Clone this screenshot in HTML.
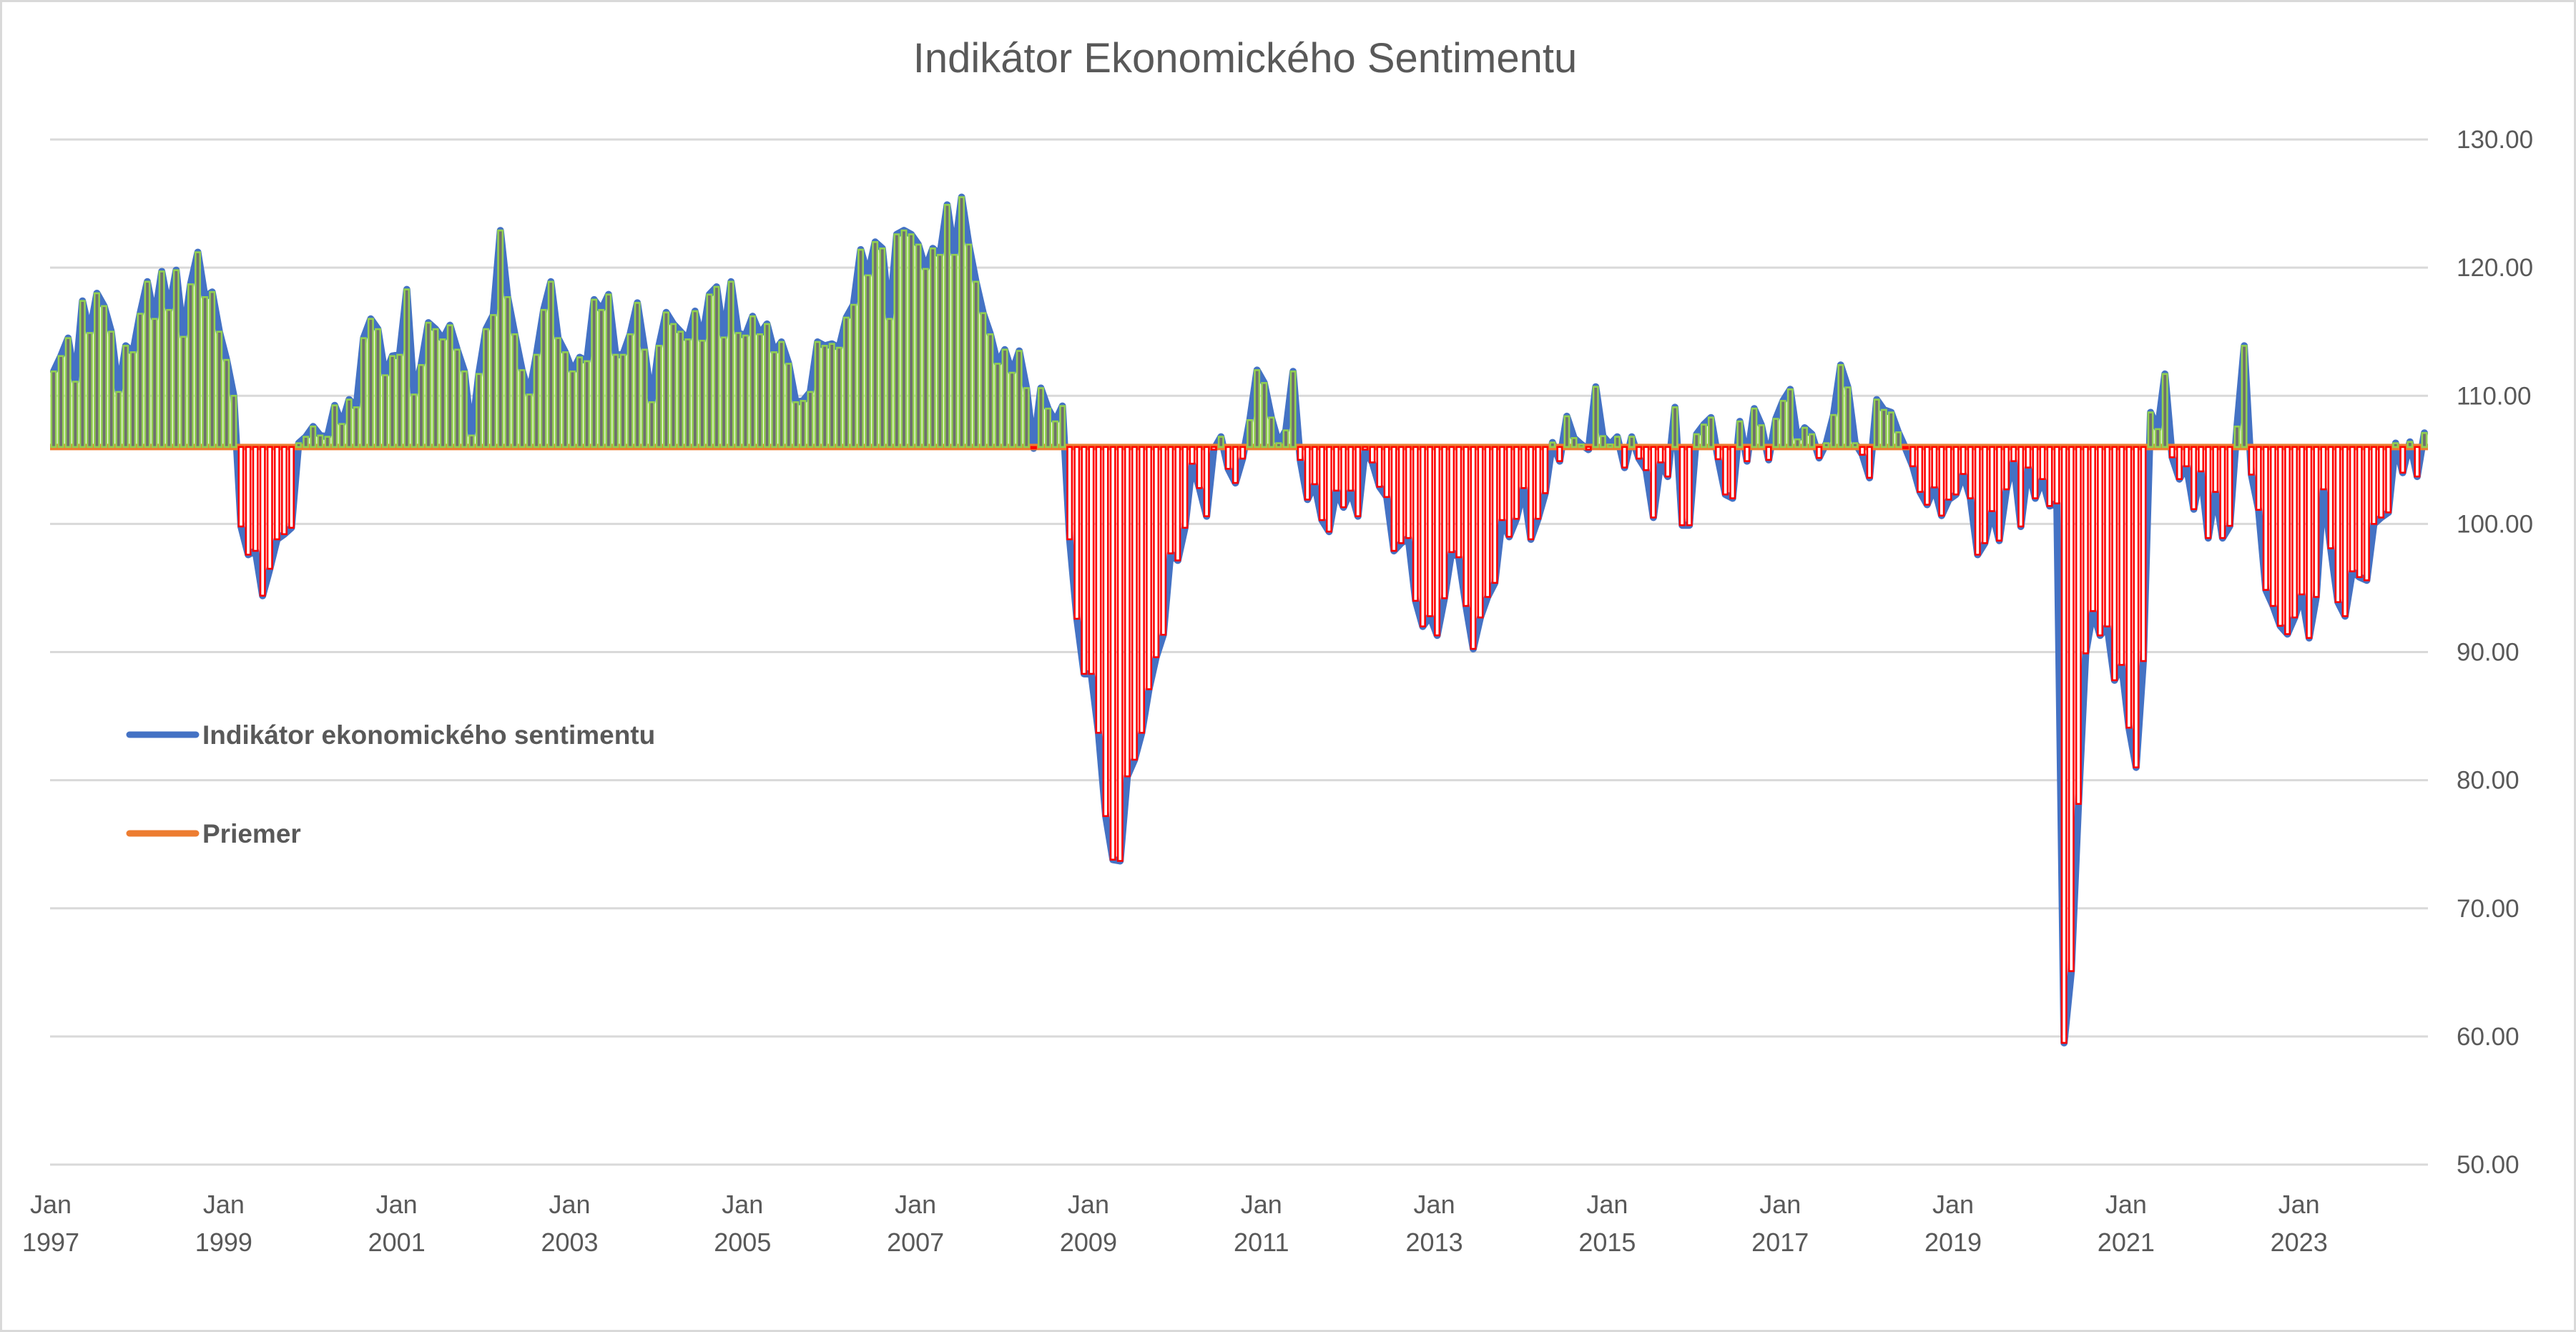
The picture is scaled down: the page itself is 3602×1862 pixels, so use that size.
<!DOCTYPE html>
<html><head><meta charset="utf-8">
<style>
html,body{margin:0;padding:0;background:#fff;}
svg{display:block;font-family:"Liberation Sans",Arial,sans-serif;}
</style></head>
<body>
<svg id="chart" width="3602" height="1862" viewBox="0 0 3602 1862" xmlns="http://www.w3.org/2000/svg">
<rect x="1.5" y="1.5" width="3599" height="1859" fill="#fff" stroke="#d9d9d9" stroke-width="3"/>
<text x="1741" y="101" text-anchor="middle" font-size="58" fill="#595959">Indikátor Ekonomického Sentimentu</text>
<g id="grid"></g>
<g id="yaxis"></g>
<g id="xaxis"></g>
<g id="series"></g>
<g>
<g>
<line x1="181" y1="1027" x2="274" y2="1027" stroke="#4472C4" stroke-width="9" stroke-linecap="round"/>
<text x="283" y="1040" font-size="37" font-weight="bold" fill="#595959">Indikátor ekonomického sentimentu</text>
</g>
<g>
<line x1="181" y1="1165" x2="274" y2="1165" stroke="#ED7D31" stroke-width="9" stroke-linecap="round"/>
<text x="283" y="1178" font-size="37" font-weight="bold" fill="#595959">Priemer</text>
</g>
</g>
</svg>
<script>
const startYear = 1997;
const yTicks = [50, 60, 70, 80, 90, 100, 110, 120, 130];
const yTickLabels = ["50.00","60.00","70.00","80.00","90.00","100.00","110.00","120.00","130.00"];
const xTickYears = ["1997","1999","2001","2003","2005","2007","2009","2011","2013","2015","2017","2019","2021","2023"];
const sentimentValues = [
111.9,113.1,114.5,111.1,117.4,114.9,118.0,117.0,115.0,110.3,113.9,113.4,
116.4,118.9,116.0,119.7,116.7,119.8,114.6,118.7,121.2,117.7,118.1,115.0,
112.8,110.0,99.8,97.6,97.9,94.4,96.5,98.8,99.2,99.7,106.3,106.8,
107.6,106.9,106.8,109.25,107.8,109.7,109.1,114.5,116.0,115.2,111.6,113.1,
113.2,118.3,110.1,112.4,115.7,115.2,114.4,115.5,113.6,111.9,106.9,111.7,
115.2,116.3,122.9,117.7,114.8,112.0,110.1,113.2,116.7,118.9,114.5,113.4,
111.9,113.0,112.7,117.5,116.7,117.9,113.2,113.2,114.8,117.25,113.6,109.5,
113.9,116.5,115.6,115.0,114.4,116.6,114.3,117.9,118.5,114.55,118.9,114.9,
114.7,116.2,114.8,115.6,113.4,114.2,112.5,109.5,109.6,110.3,114.2,113.9,
114.05,113.75,116.1,117.1,121.4,119.4,122.0,121.5,116.0,122.6,122.9,122.6,
121.8,119.9,121.5,121.0,124.9,121.0,125.5,121.8,118.9,116.45,114.8,112.5,
113.6,111.8,113.5,110.6,105.9,110.6,109.0,108.0,109.2,98.8,92.6,88.3,
88.3,83.7,77.2,73.8,73.7,80.3,81.6,83.7,87.1,89.6,91.35,97.7,
97.15,99.7,104.7,102.8,100.6,105.8,106.8,104.3,103.2,105.1,108.1,112.0,
111.0,108.3,106.3,107.3,111.9,105.0,101.9,103.1,100.3,99.4,102.6,101.3,
102.6,100.6,105.8,104.8,102.9,102.1,97.9,98.5,98.9,94.0,92.0,92.8,
91.3,94.2,97.8,97.4,93.6,90.25,92.7,94.3,95.4,100.3,99.0,100.4,
102.8,98.8,100.4,102.4,106.35,104.9,108.4,106.7,106.2,105.8,110.7,106.85,
106.2,106.8,104.4,106.8,105.1,104.2,100.5,104.8,103.7,109.1,99.9,99.9,
107.0,107.75,108.3,105.05,102.3,102.0,108.0,104.9,109.0,107.7,105.0,108.2,
109.6,110.5,106.6,107.5,107.0,105.15,106.3,108.5,112.4,110.65,106.3,105.4,
103.6,109.7,108.9,108.7,107.15,105.9,104.5,102.5,101.5,102.85,100.65,101.9,
102.3,103.9,102.0,97.6,98.5,101.0,98.7,102.7,104.9,99.8,104.4,102.0,
103.5,101.4,101.6,59.5,65.1,78.15,89.9,93.2,91.3,92.0,87.8,89.0,
84.1,81.0,89.3,108.7,107.4,111.7,105.2,103.5,104.5,101.15,104.1,98.9,
102.5,98.9,99.85,107.6,113.9,103.85,101.1,94.85,93.6,92.05,91.4,92.7,
94.5,91.1,94.3,102.7,98.1,93.9,92.8,96.3,95.85,95.6,100.0,100.5,
100.9,106.3,104.0,106.4,103.7,107.1
];

const NS = "http://www.w3.org/2000/svg";
const plotL = 70, plotR = 3395, yTop = 195, yBot = 1628;
const yMin = 50, yMax = 130;
const n = sentimentValues.length;
const band = (plotR - plotL) / n;
function xScale(i){ return plotL + (i + 0.5) * band; }
function yScale(v){ return yBot - (v - yMin) / (yMax - yMin) * (yBot - yTop); }
function mk(tag, attrs, parent){
  const e = document.createElementNS(NS, tag);
  for (const k in attrs) e.setAttribute(k, attrs[k]);
  parent.appendChild(e); return e;
}
const grid = document.getElementById('grid');
const yaxis = document.getElementById('yaxis');
const xaxis = document.getElementById('xaxis');
const series = document.getElementById('series');

yTicks.forEach((t, k) => {
  const y = yScale(t);
  const gl = mk('line', {x1: plotL, x2: plotR, y1: y, y2: y, stroke: '#d9d9d9', 'stroke-width': 3}, grid);
  
  
  const tl = mk('text', {x: 3435, y: y + 12, 'font-size': 35, fill: '#595959'}, yaxis);
  tl.textContent = yTickLabels[k];
  
  
});

xTickYears.forEach((yr) => {
  const idx = (parseInt(yr) - startYear) * 12;
  const x = xScale(idx) - 4;
  const t1 = mk('text', {x: x, y: 1696, 'font-size': 36, fill: '#595959', 'text-anchor': 'middle'}, xaxis);
  t1.textContent = 'Jan';
  
  
  const t2 = mk('text', {x: x, y: 1749, 'font-size': 36, fill: '#595959', 'text-anchor': 'middle'}, xaxis);
  t2.textContent = yr;
  
  
});

const mean = sentimentValues.reduce((a, b) => a + b, 0) / n;
const yMean = yScale(mean);

const pts = sentimentValues.map((v, i) => xScale(i).toFixed(1) + ',' + yScale(v).toFixed(1)).join(' ');
const line = mk('polyline', {points: pts, fill: 'none', stroke: '#4472C4', 'stroke-width': 10, 'stroke-linejoin': 'round', 'stroke-linecap': 'round'}, series);



const avg = mk('line', {x1: plotL, x2: plotR, y1: yMean, y2: yMean, stroke: '#ED7D31', 'stroke-width': 9}, series);



sentimentValues.forEach((v, i) => {
  const x = xScale(i);
  const y = yScale(v);
  const above = v >= mean;
  const top = Math.min(y, yMean), h = Math.max(Math.abs(y - yMean), 2);
  const r = mk('rect', {x: x - 3.2, y: top, width: 6.4, height: h,
    fill: above ? '#6f6f6f' : '#ffffff', stroke: above ? '#92D050' : '#FF0000', 'stroke-width': 2.6}, series);
  
  
});
</script>
</body></html>
